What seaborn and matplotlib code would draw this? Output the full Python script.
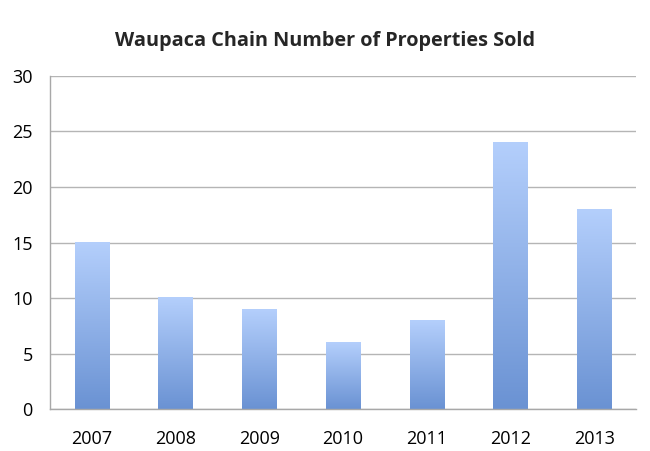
import numpy as np
import pandas as pd
import matplotlib
matplotlib.use("Agg")
import matplotlib.pyplot as plt
import seaborn as sns
from matplotlib.colors import LinearSegmentedColormap

years = ["2007", "2008", "2009", "2010", "2011", "2012", "2013"]
sold = [15, 10, 9, 6, 8, 24, 18]
yticks = [0, 5, 10, 15, 20, 25, 30]

sns.set_style("white")
plt.rcParams['font.family'] = ['Open Sans', 'DejaVu Sans']

df = pd.DataFrame({"Year": years, "Sold": sold})

fig = plt.figure(figsize=(6.5, 4.51), dpi=100)
ax = fig.add_axes([0.0769, 0.0931, 0.9016, 0.7384])

sns.barplot(data=df, x="Year", y="Sold", ax=ax, width=0.41, color="#8fb0ea", saturation=1)

cmap = LinearSegmentedColormap.from_list("g", ["#6a92d3", "#b4cffc"])
grad = np.linspace(0, 1, 256).reshape(-1, 1)
for p in ax.patches:
    x0, y0 = p.get_x(), p.get_y()
    w, h = p.get_width(), p.get_height()
    p.set_facecolor("none")
    p.set_edgecolor("none")
    ax.imshow(grad, cmap=cmap, aspect="auto", origin="lower",
              extent=[x0, x0 + w, y0, y0 + h], zorder=2, interpolation="bicubic")

ax.set_xlim(-0.5, len(years) - 0.5)
ax.set_ylim(0, 30)
ax.set_yticks(yticks)
ax.set_yticklabels([str(t) for t in yticks])
ax.yaxis.grid(True, color="#b5b5b5", linewidth=1)
ax.set_axisbelow(True)
ax.set_xlabel("")
ax.set_ylabel("")
for s in ["top", "right"]:
    ax.spines[s].set_visible(False)
for s in ["left", "bottom"]:
    ax.spines[s].set_color("#a8a8a8")
    ax.spines[s].set_linewidth(1)
ax.tick_params(axis="both", length=0, labelsize=13, colors="black")
ax.tick_params(axis="y", pad=12.5)
ax.tick_params(axis="x", pad=15)

fig.text(0.5, 0.91, "Waupaca Chain Number of Properties Sold", ha="center", va="center",
         fontsize=14.3, fontweight="bold")

fig.savefig("out.png", dpi=100)
